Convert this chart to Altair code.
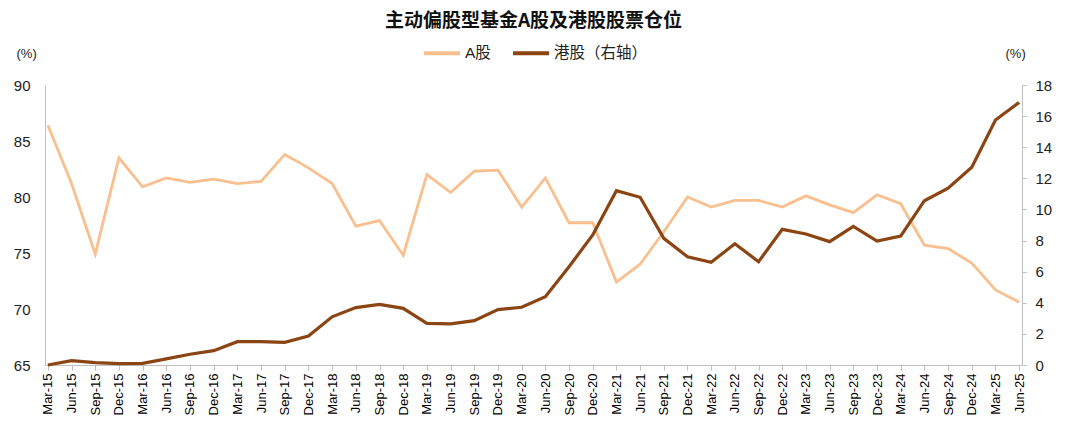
import altair as alt
import pandas as pd

quarters = []
for yr in range(15, 26):
    for m in ["Mar", "Jun", "Sep", "Dec"]:
        quarters.append(f"{m}-{yr}")
quarters = quarters[:42]

a_share = [86.4, 81.2, 74.9, 83.5, 80.9, 81.7, 81.3, 81.6, 81.2, 81.4,
           83.8, 82.6, 81.2, 77.4, 77.9, 74.8, 82.0, 80.4, 82.3, 82.4,
           79.1, 81.7, 77.7, 77.7, 72.4, 74.0, 76.9, 80.0, 79.1, 79.7,
           79.7, 79.1, 80.1, 79.3, 78.6, 80.2, 79.4, 75.7, 75.4, 74.1,
           71.7, 70.6]
hk_share = [0.0, 0.28, 0.15, 0.09, 0.11, 0.39, 0.69, 0.92, 1.5, 1.5,
            1.46, 1.86, 3.1, 3.69, 3.9, 3.64, 2.68, 2.64, 2.85, 3.56,
            3.71, 4.39, 6.32, 8.36, 11.21, 10.78, 8.14, 6.96, 6.6, 7.8,
            6.64, 8.72, 8.42, 7.93, 8.91, 7.97, 8.29, 10.56, 11.36, 12.71,
            15.75, 16.88]

series_names = ["A股", "港股（右轴）"]
colors = ["#F9BF8E", "#8B4513"]

df = pd.DataFrame({
    "quarter": quarters * 2,
    "series": [series_names[0]] * len(quarters) + [series_names[1]] * len(quarters),
    "value": a_share + hk_share,
})

FONT = "Liberation Sans, Arial, Noto Sans CJK SC"

x_enc = alt.X("quarter:O", sort=quarters,
              scale=alt.Scale(type="point", padding=0.12),
              axis=alt.Axis(title=None, labelAngle=-90, labelFontSize=13,
                            labelColor="#000", labelFont=FONT, domainColor="#bfbfbf",
                            tickColor="#bfbfbf", tickSize=5, labelPadding=3,
                            tickBand="extent", bandPosition=0))

color_enc = alt.Color("series:N",
                      scale=alt.Scale(domain=series_names, range=colors),
                      legend=alt.Legend(title=None, orient="none", direction="horizontal",
                                        legendX=377, legendY=-52,
                                        symbolType="stroke", symbolStrokeWidth=4,
                                        symbolSize=1296, labelFontSize=15.5,
                                        labelFont=FONT, labelColor="#222",
                                        columnPadding=14, labelOffset=3))

base = alt.Chart(df)

left = base.transform_filter(alt.datum.series == series_names[0]).mark_line(strokeWidth=2.8).encode(
    x=x_enc,
    y=alt.Y("value:Q", scale=alt.Scale(domain=[65, 90], nice=False, zero=False),
            axis=alt.Axis(title="(%)", titleAngle=0, titleX=-29, titleY=-25,
                          titleAlign="left", titleFontSize=13, titleFontWeight="normal",
                          titleFont=FONT, titleColor="#222",
                          values=[65, 70, 75, 80, 85, 90], ticks=False, grid=False,
                          labelFontSize=15, labelFont=FONT, labelColor="#222",
                          labelPadding=15, domainColor="#bfbfbf")),
    color=color_enc,
)

right = base.transform_filter(alt.datum.series == series_names[1]).mark_line(strokeWidth=3.2).encode(
    x=x_enc,
    y=alt.Y("value:Q", scale=alt.Scale(domain=[0, 18], nice=False),
            axis=alt.Axis(orient="right", title="(%)", titleAngle=0, titleX=-17,
                          titleY=-25, titleAlign="left", titleFontSize=13,
                          titleFontWeight="normal", titleFont=FONT, titleColor="#222",
                          values=list(range(0, 19, 2)), tickSize=4, tickColor="#bfbfbf",
                          grid=False, labelFontSize=15, labelFont=FONT, labelColor="#222",
                          labelPadding=9, domainColor="#bfbfbf")),
    color=color_enc,
)

chart = alt.layer(left, right).resolve_scale(y="independent").properties(
    width=977, height=280,
    title=alt.TitleParams("主动偏股型基金A股及港股股票仓位", fontSize=19, fontWeight="bold",
                          font="Noto Sans CJK SC", color="#111", anchor="middle", offset=2),
    padding={"left": 5, "top": 4, "right": 5, "bottom": 5},
).configure_view(stroke=None).configure_axis(grid=False)

chart.save("out.html", embed_options={"renderer": "svg", "actions": False})
